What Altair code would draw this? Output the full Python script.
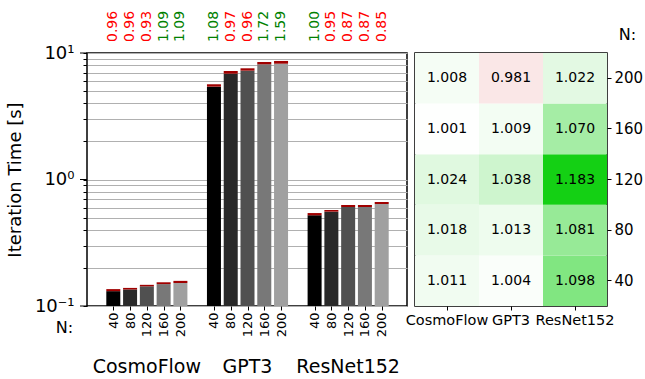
import altair as alt
import pandas as pd

FONT = "DejaVu Sans"

models = ["CosmoFlow", "GPT3", "ResNet152"]
nodes = [40, 80, 120, 160, 200]
node_labels = ["40", "80", "120", "160", "200"]
bar_grays = ["#000000", "#292929", "#505050", "#787878", "#a0a0a0"]

# iteration time [s] (gray bar top) and upper value (red cap top)
cosmoflow_time = [0.131, 0.135, 0.143, 0.149, 0.152]
cosmoflow_upper = [0.136, 0.139, 0.147, 0.154, 0.158]
gpt3_time = [5.42, 6.86, 7.25, 8.14, 8.23]
gpt3_upper = [5.66, 7.21, 7.57, 8.49, 8.65]
resnet_time = [0.521, 0.557, 0.606, 0.606, 0.640]
resnet_upper = [0.543, 0.574, 0.629, 0.629, 0.664]

# ratios printed above the bars
cosmoflow_ratio = [0.96, 0.96, 0.93, 1.09, 1.09]
gpt3_ratio = [1.08, 0.97, 0.96, 1.72, 1.59]
resnet_ratio = [1.00, 0.95, 0.87, 0.87, 0.85]

# heatmap values per model, in order of nodes (40 .. 200)
heat_cosmoflow = [1.011, 1.018, 1.024, 1.001, 1.008]
heat_gpt3 = [1.004, 1.013, 1.038, 1.009, 0.981]
heat_resnet = [1.098, 1.081, 1.183, 1.070, 1.022]

y_major = [0.1, 1, 10]
y_minor = [0.2, 0.3, 0.4, 0.5, 0.6, 0.7, 0.8, 0.9, 2, 3, 4, 5, 6, 7, 8, 9]

# ---------- build tables ----------
rows = []
for gi, (m, t, u, r) in enumerate([
    ("CosmoFlow", cosmoflow_time, cosmoflow_upper, cosmoflow_ratio),
    ("GPT3", gpt3_time, gpt3_upper, gpt3_ratio),
    ("ResNet152", resnet_time, resnet_upper, resnet_ratio),
]):
    for i, n in enumerate(nodes):
        rows.append({
            "model": m, "N": n, "pos": gi * 6 + i,
            "time": t[i], "upper": u[i], "ratio": r[i],
            "ratio_txt": f"{r[i]:.2f}",
            "ratio_col": "#ff0000" if r[i] < 1 else "#008000",
        })
bars_df = pd.DataFrame(rows)
groups_df = pd.DataFrame({"model": models, "pos": [2, 8, 14]})
major_df = pd.DataFrame({"time": y_major})

heat_rows = []
for m, vals in zip(models, [heat_cosmoflow, heat_gpt3, heat_resnet]):
    for n, v in zip(nodes, vals):
        heat_rows.append({"model": m, "N": n, "value": v})
heat_df = pd.DataFrame(heat_rows)

W, H = 320, 253
x_scale = alt.Scale(domain=[-1.27, 17.21], nice=False, zero=False)
y_scale = alt.Scale(type="log", domain=[0.1, 10], nice=False)

label_expr = ("datum.value == 10 ? '10\u00b9' : datum.value == 1 ? '10\u2070' : "
              "datum.value == 0.1 ? '10\u207b\u00b9' : ''")

x_axis = alt.Axis(
    values=[int(p) for p in bars_df["pos"]],
    labelExpr="['40','80','120','160','200'][datum.value % 6]",
    labelAngle=270, labelFontSize=13, labelPadding=2, tickSize=4,
    labelFlush=False, labelOverlap=False, labelBound=False, grid=False,
    title="N:", titleAngle=0, titleX=-23, titleY=21, titleAlign="center",
    titleBaseline="middle", titleFontSize=16, titleFontWeight="normal",
)
y_axis = alt.Axis(
    values=sorted(y_major + y_minor), labelExpr=label_expr,
    tickSize=4, labelPadding=9, labelFontSize=18, labelOverlap=False,
    grid=True, gridColor="#b0b0b0", gridWidth=1,
    title="Iteration Time [s]", titleFontSize=18, titleFontWeight="normal",
    titlePadding=10,
)

X = lambda: alt.X("pos:Q", scale=x_scale, axis=x_axis)
Y = lambda: alt.Y("time:Q", scale=y_scale, axis=y_axis)

base = alt.Chart(bars_df)
bars = base.mark_bar(size=14).encode(
    x=X(), y=Y(),
    y2=alt.datum(0.1),
    color=alt.Color("N:O", scale=alt.Scale(domain=nodes, range=bar_grays), legend=None),
)
caps = base.mark_bar(size=14, color="#a00000").encode(
    x=X(), y=Y(), y2="upper:Q",
)
ratio_text = base.mark_text(angle=270, align="left", baseline="middle",
                            fontSize=14, font=FONT).encode(
    x=X(),
    y=alt.value(-11),
    text="ratio_txt:N",
    color=alt.Color("ratio_col:N", scale=None),
)
major_ticks = alt.Chart(major_df).mark_rule(color="black", strokeWidth=1).encode(
    y=Y(),
    x=alt.value(-7), x2=alt.value(0),
)
group_text = alt.Chart(groups_df).mark_text(fontSize=19, font=FONT, baseline="middle").encode(
    x=X(),
    y=alt.value(H + 61),
    text="model:N",
)
bar_chart = alt.layer(bars, caps, ratio_text, major_ticks, group_text).properties(width=W, height=H)

heat_base = alt.Chart(heat_df).encode(
    x=alt.X("model:N", sort=models, axis=alt.Axis(
        labelAngle=0, labelFontSize=14.5, tickSize=4, labelPadding=3, title=None,
        domain=False, labelOverlap=False)),
    y=alt.Y("N:O", sort="descending", axis=alt.Axis(
        orient="right", labelFontSize=15, tickSize=4, labelPadding=3,
        title="N:", titleAngle=0, titleX=20, titleY=-19, titleAlign="center",
        titleBaseline="middle", titleFontSize=16, titleFontWeight="normal",
        domain=False)),
)
heat_rect = heat_base.mark_rect().encode(
    color=alt.Color("value:Q", scale=alt.Scale(
        domain=[0.817, 1.0, 1.183], range=["#d01414", "#ffffff", "#14d014"],
        interpolate="rgb"), legend=None),
)
heat_text = heat_base.mark_text(fontSize=14, font=FONT, color="black").encode(
    text=alt.Text("value:Q", format=".3f"),
)
heat_chart = alt.layer(heat_rect, heat_text).properties(width=192, height=H)

chart = alt.hconcat(bar_chart, heat_chart, spacing=8, bounds="flush").properties(
    padding={"left": 5, "top": 10, "right": 0, "bottom": 0},
    background="white",
).configure_view(stroke="black", strokeWidth=1.5).configure_axis(
    labelFont=FONT, titleFont=FONT, labelColor="black", titleColor="black",
    tickColor="black", domain=False, labelOverlap=False,
).configure_text(font=FONT)

chart.save("out.html", embed_options={"renderer": "svg", "actions": False})
